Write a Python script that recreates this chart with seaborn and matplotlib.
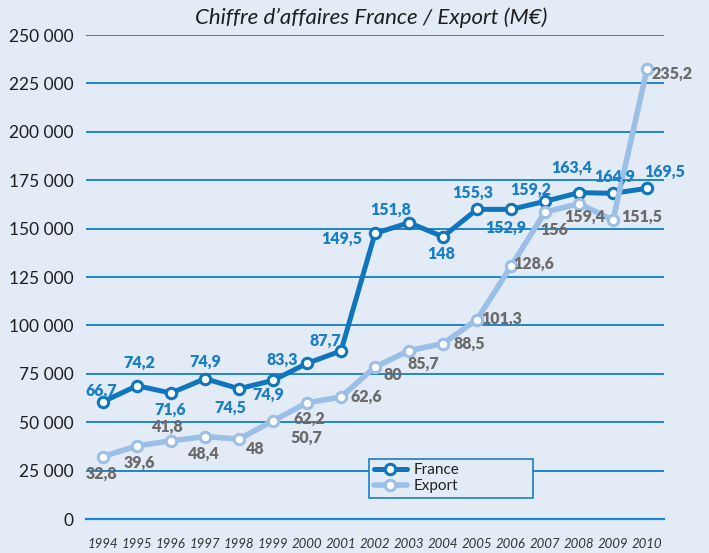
import numpy as np
import pandas as pd
import seaborn as sns
import matplotlib.pyplot as plt
from matplotlib.ticker import FuncFormatter

# years on the x axis
years = ['1994', '1995', '1996', '1997', '1998', '1999', '2000', '2001', '2002',
         '2003', '2004', '2005', '2006', '2007', '2008', '2009', '2010']

# values as drawn on the chart (in the axis units)
france = [60560, 68840, 65060, 72460, 67290, 71580, 80380, 86800, 147520,
          153050, 145810, 159940, 159940, 164080, 168580, 168220, 170810]
export = [32250, 37780, 40370, 42600, 41250, 50720, 60040, 62990, 78520,
          86960, 90580, 103000, 130590, 158540, 162890, 154400, 232300]

# the labels printed next to the points
france_labels = ['66,7', '74,2', '71,6', '74,9', '74,5', '74,9', '83,3', '87,7', '149,5',
                 '151,8', '148', '155,3', '152,9', '159,2', '163,4', '164,9', '169,5']
export_labels = ['32,8', '39,6', '41,8', '48,4', '48', '50,7', '62,2', '62,6', '80',
                 '85,7', '88,5', '101,3', '128,6', '156', '159,4', '151,5', '235,2']

# label offsets (pixels) from each point
france_off = [(-2, 11), (2, 23), (-1, -17), (0, 17), (-9, -19), (-5, -14), (-25, 4), (-16, 10),
              (-33, -5), (-18, 13), (-2, -17), (-4, 17), (-5, -18), (-14, 12), (-7, 25), (2, 17), (18, 17)]
export_off = [(-2, -17), (2, -17), (-3, 14), (-1, -17), (16, -10), (33, -17), (2, -16), (25, 0),
              (18, -8), (14, -13), (26, 0), (25, 1), (23, 2), (9, -18), (6, -13), (29, 3), (25, -4)]

bg = '#e3ebf7'
blue = '#0f76bd'
light = '#9bbfe6'
grid_blue = '#1f86ca'

sns.set_style('white')
plt.rcParams['font.family'] = ['Lato', 'DejaVu Sans']

df = pd.DataFrame({'Year': years, 'France': france, 'Export': export})

fig = plt.figure(figsize=(7.09, 5.53), dpi=100, facecolor=bg)
ax = fig.add_axes([86 / 709, 34 / 553, 578 / 709, 484 / 553])
ax.set_facecolor(bg)

sns.lineplot(data=df, x='Year', y='France', ax=ax, color=blue, lw=3.6, marker='o',
             markersize=7.5, markerfacecolor='white', markeredgecolor=blue,
             markeredgewidth=2.2, label='France', zorder=3)
sns.lineplot(data=df, x='Year', y='Export', ax=ax, color=light, lw=4.0, marker='o',
             markersize=7.5, markerfacecolor='white', markeredgecolor=light,
             markeredgewidth=2.2, label='Export', zorder=4)

for i, (v, t, o) in enumerate(zip(france, france_labels, france_off)):
    ax.annotate(t, (i, v), xytext=o, textcoords='offset pixels', ha='center', va='center',
                fontsize=11.5, fontweight='heavy', color='#1a7fc6', zorder=6)
for i, (v, t, o) in enumerate(zip(export, export_labels, export_off)):
    ax.annotate(t, (i, v), xytext=o, textcoords='offset pixels', ha='center', va='center',
                fontsize=11.5, fontweight='heavy', color='#6b6b6b', zorder=6)

ax.set_xlim(-0.5, len(years) - 0.5)
ax.set_ylim(0, 250000)
ax.set_yticks(np.arange(0, 250001, 25000))
ax.yaxis.set_major_formatter(FuncFormatter(lambda x, pos: f'{int(x):,}'.replace(',', ' ')))
ax.tick_params(axis='y', length=0, pad=9, labelsize=12.5, labelcolor='#1e1e1e')
ax.yaxis.grid(True, color=grid_blue, lw=1.4)
ax.set_axisbelow(True)

# ticks between the years, labels in the middle
ax.set_xticks(np.arange(-0.5, len(years), 1))
ax.set_xticklabels([])
ax.set_xticks(np.arange(len(years)), minor=True)
ax.set_xticklabels(years, minor=True, fontstyle='italic', fontsize=9.5, color='#333333')
ax.tick_params(axis='x', which='major', direction='in', length=6, width=1.5, color='#5aa8dc')
ax.tick_params(axis='x', which='minor', length=0, pad=14)

for s in ['top', 'right', 'left']:
    ax.spines[s].set_visible(False)
ax.spines['bottom'].set_color(grid_blue)
ax.spines['bottom'].set_linewidth(1.6)
ax.set_xlabel('')
ax.set_ylabel('')

leg = ax.legend(loc='lower left', bbox_to_anchor=(0.4896, 0.0434, 0.2837, 0.095), mode='expand',
                fontsize=11, frameon=True, fancybox=False, framealpha=1, facecolor=bg,
                edgecolor='#1a7fc6', handlelength=2.2, borderpad=0.3, labelspacing=0.15,
                handletextpad=0.4, borderaxespad=0)
leg.get_frame().set_linewidth(1.2)
for t in leg.get_texts():
    t.set_color('#222222')

fig.text(371.5 / 709, 1 - 18 / 553, "Chiffre d\u2019affaires France / Export (M\u20ac)",
         ha='center', va='center', fontsize=16, fontstyle='italic', color='#1e1e1e')

fig.savefig('out.png', dpi=100, facecolor=bg)
